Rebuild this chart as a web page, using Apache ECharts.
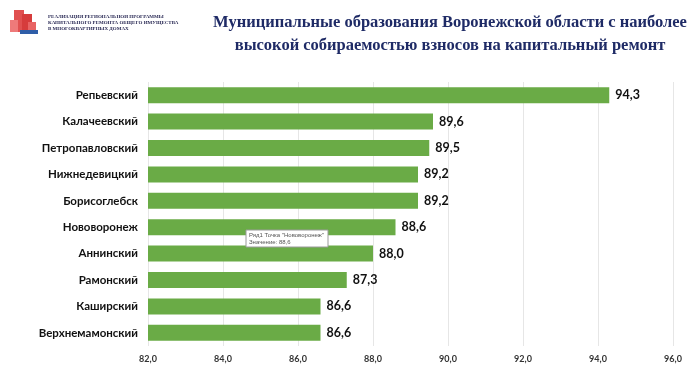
<!DOCTYPE html>
<html>
<head>
<meta charset="utf-8">
<script src="https://cdn.jsdelivr.net/npm/echarts@6/dist/echarts.min.js"></script>
<style>
html,body{margin:0;padding:0;background:#fff;}
#c{width:700px;height:391px;}
</style>
</head>
<body>
<div id="c"></div>
<script>
var categories = ["Репьевский","Калачеевский","Петропавловский","Нижнедевицкий","Борисоглебск","Нововоронеж","Аннинский","Рамонский","Каширский","Верхнемамонский"];
var values = [94.3, 89.6, 89.5, 89.2, 89.2, 88.6, 88.0, 87.3, 86.6, 86.6];
var axisMin = 82, axisMax = 96, axisStep = 2;
var titleLines = ["Муниципальные образования Воронежской области с наиболее","высокой собираемостью взносов на капитальный ремонт"];
var logoLines = ["РЕАЛИЗАЦИЯ РЕГИОНАЛЬНОЙ ПРОГРАММЫ","КАПИТАЛЬНОГО РЕМОНТА ОБЩЕГО ИМУЩЕСТВА","В МНОГОКВАРТИРНЫХ ДОМАХ"];

function fmt(v){ return v.toFixed(1).replace('.', ','); }

var chart = echarts.init(document.getElementById('c'), null, {renderer:'canvas'});
chart.setOption({
  backgroundColor:'#ffffff',
  animation:false,
  title:{
    text: titleLines.join('\n'),
    left: 445, top: 6, textAlign:'center',
    textStyle:{fontFamily:'Liberation Serif', fontWeight:'bold', fontSize:16.5, color:'#1f2b66', lineHeight:23}
  },
  grid:{left:148, right:27, top:82, bottom:45},
  xAxis:{
    type:'value', min:axisMin, max:axisMax, interval:axisStep,
    axisLine:{show:false}, axisTick:{show:false},
    splitLine:{lineStyle:{color:'#e6e6e6', width:1}},
    axisLabel:{formatter:function(v){return fmt(v);}, fontFamily:'Lato', fontWeight:'bold', fontSize:9, color:'#333', margin:9}
  },
  yAxis:{
    type:'category', data:categories, inverse:true,
    axisLine:{show:false}, axisTick:{show:false},
    axisLabel:{fontFamily:'Lato', fontWeight:'bold', fontSize:11.5, color:'#111', margin:10}
  },
  series:[{
    type:'bar', data:values, barWidth:16, z:2,
    itemStyle:{color:'#6aab46'},
    label:{show:true, position:'right', distance:6, formatter:function(p){return fmt(p.value);},
      fontFamily:'Lato', fontWeight:'bold', fontSize:12.5, color:'#111'}
  }],
  graphic:{
    zlevel:1,
    elements:[
      {type:'rect', z:100, shape:{x:14,y:10,width:10,height:22}, style:{fill:'#e05050'}},
      {type:'rect', z:100, shape:{x:22,y:14,width:10,height:18}, style:{fill:'#d63c3c'}},
      {type:'rect', z:100, shape:{x:10,y:20,width:8,height:12}, style:{fill:'#ee7a7a'}},
      {type:'rect', z:100, shape:{x:28,y:22,width:8,height:10}, style:{fill:'#e86464'}},
      {type:'rect', z:100, shape:{x:20,y:30,width:18,height:4}, style:{fill:'#2f5ea8'}},
      {type:'text', z:100, x:48, y:14, style:{text:logoLines.join('\n'), font:'bold 5px "Liberation Serif"', fill:'#2a2a55', lineHeight:6}},
      {type:'rect', z:100, zlevel:1, shape:{x:246,y:230,width:82,height:17}, style:{fill:'#ffffff', stroke:'#9a9a9a', lineWidth:1}},
      {type:'text', z:101, zlevel:1, x:249, y:232, style:{text:'Ряд1 Точка "Нововоронеж"\nЗначение: 88,6', font:'6px "Liberation Sans"', fill:'#555', lineHeight:7}}
    ]
  }
});
</script>
</body>
</html>
